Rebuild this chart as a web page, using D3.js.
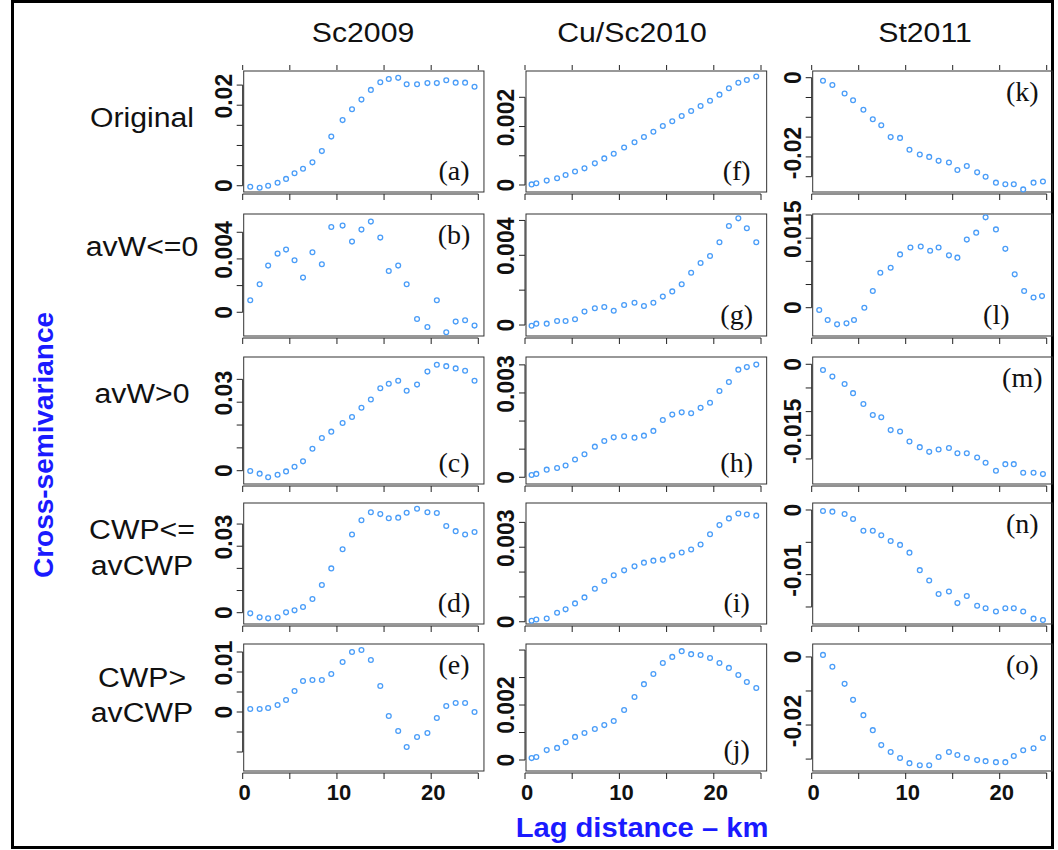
<!DOCTYPE html>
<html><head><meta charset="utf-8">
<script src="https://cdn.jsdelivr.net/npm/d3@7"></script>
<style>body{margin:0;background:#fff}svg{display:block}</style>
</head><body>
<svg id="c" width="1058" height="850"></svg>
<script>
// ---------- data ----------
const columnTitles = ["Sc2009", "Cu/Sc2010", "St2011"];
const rowLabels = [["Original"], ["avW<=0"], ["avW>0"], ["CWP<=", "avCWP"], ["CWP>", "avCWP"]];
const xTicks = [0, 5, 10, 15, 20, 25];
const xTickLabels = [0, 10, 20];

const lagsCol1 = [0.8,1.8,2.7,3.7,4.6,5.5,6.4,7.4,8.4,9.4,10.6,11.6,12.6,13.6,14.6,15.5,16.5,17.4,18.5,19.6,20.6,21.6,22.6,23.6,24.6];
const lagsCol2 = [0.7,1.2,2.3,3.4,4.3,5.3,6.3,7.4,8.4,9.4,10.5,11.6,12.6,13.6,14.6,15.6,16.6,17.6,18.6,19.6,20.6,21.6,22.6,23.5,24.5];
const lagsCol3 = [1.2,2.2,3.5,4.4,5.5,6.5,7.4,8.4,9.4,10.4,11.5,12.5,13.5,14.6,15.5,16.5,17.6,18.5,19.6,20.6,21.5,22.5,23.6,24.6];
const lagsL    = [0.8,1.7,2.7,3.7,4.5,5.6,6.5,7.3,8.4,9.4,10.5,11.6,12.6,13.5,14.6,15.5,16.5,17.5,18.5,19.6,20.6,21.6,22.6,23.6,24.5];

const valsA = [-0.00025,-0.0005,0,0.00075,0.0017,0.0031,0.0042,0.0058,0.0086,0.0122,0.0163,0.019,0.0214,0.0238,0.0257,0.0265,0.0268,0.0252,0.0252,0.0255,0.0255,0.0262,0.0256,0.0256,0.0246];
const valsB = [0.0009,0.0021,0.0035,0.0044,0.0047,0.0039,0.0026,0.0045,0.0036,0.0064,0.0065,0.0053,0.0062,0.0068,0.0056,0.0031,0.0035,0.0021,-0.0005,-0.0011,0.0009,-0.0015,-0.0007,-0.0006,-0.001];
const valsC = [-0.00015,-0.0013,-0.0029,-0.00175,-0.0003,0.00175,0.0041,0.0096,0.0143,0.0171,0.0209,0.0235,0.0276,0.0312,0.0361,0.0381,0.0394,0.035,0.0377,0.0434,0.0464,0.0458,0.0448,0.0438,0.0394];
const valsD = [-0.0003,-0.0021,-0.00256,-0.0021,0.00015,0.00105,0.00256,0.0062,0.0125,0.02,0.0286,0.0353,0.0417,0.0453,0.0445,0.0426,0.0429,0.0451,0.0469,0.0453,0.045,0.0391,0.0368,0.0353,0.0364];
const valsE = [0.00075,0.00075,0.001,0.00175,0.003,0.00525,0.00775,0.008,0.008,0.0095,0.0125,0.015,0.0155,0.013,0.0065,-0.001,-0.00475,-0.00875,-0.00625,-0.00525,-0.0015,0.0015,0.00225,0.00225,0];
const valsF = [0.00002,0.00006,0.00015,0.00023,0.00034,0.00046,0.00057,0.00074,0.00091,0.00107,0.00128,0.00146,0.00164,0.00182,0.00202,0.00218,0.00236,0.00253,0.0027,0.00288,0.00309,0.00331,0.0035,0.00359,0.00371];
const valsG = [-0.00004,0.00008,0.00008,0.00023,0.00023,0.00033,0.00077,0.00096,0.00103,0.00082,0.00115,0.00128,0.00109,0.00128,0.00163,0.00193,0.00234,0.003,0.00356,0.00396,0.00475,0.00568,0.00612,0.00555,0.00475];
const valsH = [0.00008,0.00012,0.00027,0.00033,0.00042,0.00063,0.00082,0.00109,0.00129,0.00142,0.00146,0.00141,0.00148,0.00165,0.00204,0.00223,0.00231,0.00228,0.00247,0.00265,0.00307,0.00339,0.00383,0.00392,0.00401];
const valsI = [0.00004,0.00009,0.00013,0.00036,0.0005,0.00074,0.00098,0.00133,0.00164,0.00187,0.00207,0.00223,0.00238,0.00246,0.0025,0.00266,0.00279,0.00291,0.00311,0.00352,0.00389,0.00416,0.00436,0.00432,0.00427];
const valsJ = [0.00007,0.00011,0.00036,0.00044,0.00065,0.00084,0.00098,0.00113,0.00127,0.00142,0.00182,0.00229,0.00276,0.00313,0.00353,0.00375,0.00396,0.00385,0.00382,0.00371,0.00353,0.00335,0.00309,0.00284,0.00262];
const valsK = [-0.00076,-0.00185,-0.004,-0.0057,-0.0081,-0.0105,-0.012,-0.015,-0.0152,-0.0182,-0.0194,-0.02,-0.021,-0.0214,-0.0233,-0.0223,-0.0239,-0.025,-0.0265,-0.0269,-0.0269,-0.0282,-0.0265,-0.0262];
const valsL = [-0.0005,-0.00266,-0.0036,-0.00338,-0.00266,0,0.0036,0.00755,0.00863,0.0115,0.013,0.0132,0.0123,0.013,0.0113,0.0108,0.0147,0.0162,0.0195,0.0169,0.0127,0.0072,0.0036,0.0022,0.0025];
const valsM = [-0.0012,-0.0026,-0.00415,-0.0061,-0.0084,-0.0107,-0.0112,-0.0139,-0.0142,-0.0163,-0.0175,-0.0185,-0.018,-0.0177,-0.0188,-0.0188,-0.0197,-0.0208,-0.0225,-0.0211,-0.0211,-0.0229,-0.0229,-0.0232];
const valsN = [-0.00015,-0.00026,-0.00062,-0.0014,-0.0032,-0.0032,-0.0039,-0.0048,-0.0054,-0.0066,-0.0093,-0.0109,-0.013,-0.0126,-0.0144,-0.0133,-0.0148,-0.0152,-0.0157,-0.0152,-0.0152,-0.0157,-0.0168,-0.017];
const valsO = [0.0006,-0.0029,-0.0079,-0.0126,-0.0171,-0.0215,-0.0259,-0.0279,-0.0297,-0.0312,-0.0318,-0.0318,-0.0294,-0.0279,-0.0288,-0.0297,-0.0303,-0.0306,-0.0309,-0.0309,-0.0291,-0.0274,-0.0268,-0.0238];

const yTicksA = [0,0.005,0.01,0.015,0.02,0.025], yLabA = [0,0.02];
const yTicksB = [0,0.002,0.004,0.006],           yLabB = [0,0.004];
const yTicksC = [0,0.01,0.02,0.03,0.04],         yLabC = [0,0.03];
const yTicksD = [0,0.01,0.02,0.03,0.04],         yLabD = [0,0.03];
const yTicksE = [-0.01,-0.005,0,0.005,0.01,0.015], yLabE = [0,0.01];
const yTicksF = [0,0.001,0.002,0.003],           yLabF = [0,0.002];
const yTicksG = [0,0.002,0.004,0.006],           yLabG = [0,0.004];
const yTicksH = [0,0.001,0.002,0.003,0.004],     yLabH = [0,0.003];
const yTicksI = [0,0.001,0.002,0.003,0.004],     yLabI = [0,0.003];
const yTicksJ = [0,0.001,0.002,0.003,0.004],     yLabJ = [0,0.002];
const yTicksK = [0,-0.005,-0.01,-0.015,-0.02,-0.025], yLabK = [0,-0.02];
const yTicksL = [0,0.005,0.01,0.015,0.02],       yLabL = [0,0.015];
const yTicksM = [0,-0.005,-0.01,-0.015,-0.02],   yLabM = [0,-0.015];
const yTicksN = [0,-0.005,-0.01,-0.015],         yLabN = [0,-0.01];
const yTicksO = [0,-0.01,-0.02,-0.03],           yLabO = [0,-0.02];

// y-axis limits (value at bottom, value at top) of each panel
const limA = [-0.00156,0.0285], limB = [-0.00178,0.00737], limC = [-0.00583,0.0498], limD = [-0.0051,0.0495], limE = [-0.01475,0.017];
const limF = [-0.00024,0.0039], limG = [-0.00063,0.00637], limH = [-0.00024,0.00428], limI = [-0.00009,0.00478], limJ = [-0.0004,0.00422];
const limK = [-0.02886,0.00169], limL = [-0.00611,0.02022], limM = [-0.02529,0.00154], limN = [-0.01763,0.00108], limO = [-0.0335,0.0038];

// ---------- layout ----------
const colX = [[242.7, 478.3], [525, 761], [811.7, 1046.7]];   // pixel of lag 0 and lag 25
const rowY = [[71,192],[214,336],[357,484],[503,624],[644,771]];
const letterPos = {
  a:"br", b:"tr", c:"br", d:"br", e:"tr",
  f:"br", g:"br", h:"br", i:"br", j:"br",
  k:"tr", l:"bm", m:"tr", n:"tr", o:"tr"
};
// the source's rotated tick labels sit a little above their ticks
const labelLift = {pos:9, neg:4};
const labelLiftOverride = {j:0};

const panels = [
  {id:"a", col:0, row:0, lags:lagsCol1, vals:valsA, ticks:yTicksA, labs:yLabA, lim:limA},
  {id:"b", col:0, row:1, lags:lagsCol1, vals:valsB, ticks:yTicksB, labs:yLabB, lim:limB},
  {id:"c", col:0, row:2, lags:lagsCol1, vals:valsC, ticks:yTicksC, labs:yLabC, lim:limC},
  {id:"d", col:0, row:3, lags:lagsCol1, vals:valsD, ticks:yTicksD, labs:yLabD, lim:limD},
  {id:"e", col:0, row:4, lags:lagsCol1, vals:valsE, ticks:yTicksE, labs:yLabE, lim:limE},
  {id:"f", col:1, row:0, lags:lagsCol2, vals:valsF, ticks:yTicksF, labs:yLabF, lim:limF},
  {id:"g", col:1, row:1, lags:lagsCol2, vals:valsG, ticks:yTicksG, labs:yLabG, lim:limG},
  {id:"h", col:1, row:2, lags:lagsCol2, vals:valsH, ticks:yTicksH, labs:yLabH, lim:limH},
  {id:"i", col:1, row:3, lags:lagsCol2, vals:valsI, ticks:yTicksI, labs:yLabI, lim:limI},
  {id:"j", col:1, row:4, lags:lagsCol2, vals:valsJ, ticks:yTicksJ, labs:yLabJ, lim:limJ},
  {id:"k", col:2, row:0, lags:lagsCol3, vals:valsK, ticks:yTicksK, labs:yLabK, lim:limK},
  {id:"l", col:2, row:1, lags:lagsL,    vals:valsL, ticks:yTicksL, labs:yLabL, lim:limL},
  {id:"m", col:2, row:2, lags:lagsCol3, vals:valsM, ticks:yTicksM, labs:yLabM, lim:limM},
  {id:"n", col:2, row:3, lags:lagsCol3, vals:valsN, ticks:yTicksN, labs:yLabN, lim:limN},
  {id:"o", col:2, row:4, lags:lagsCol3, vals:valsO, ticks:yTicksO, labs:yLabO, lim:limO}
];

const svg = d3.select("#c");
svg.append("rect").attr("width",1058).attr("height",850).attr("fill","#fff");
svg.append("rect").attr("x",12.5).attr("y",1.5).attr("width",1040).attr("height",846)
  .attr("fill","none").attr("stroke","#000").attr("stroke-width",3);

const SANS = "'Liberation Sans', Arial, sans-serif";
const SERIF = "'Liberation Serif', 'Times New Roman', serif";
const pointColor = "#4a9df8";
const blue = "#1a1aff";

const titleX = [363, 632, 925];
columnTitles.forEach((t,i)=>{
  svg.append("text").attr("transform",`translate(${titleX[i]},42) scale(1.12,1)`).attr("text-anchor","middle")
    .attr("font-family",SANS).attr("font-size",27).attr("fill","#111").text(t);
});
const rowLabelY = [[127],[256],[403],[539,575],[687,722]];
rowLabels.forEach((lines,r)=>{
  lines.forEach((ln,k)=>{
    svg.append("text").attr("transform",`translate(142,${rowLabelY[r][k]}) scale(1.12,1)`).attr("text-anchor","middle")
      .attr("font-family",SANS).attr("font-size",27).attr("fill","#111").text(ln);
  });
});
svg.append("text").attr("transform","translate(53,445) rotate(-90)").attr("text-anchor","middle")
  .attr("font-family",SANS).attr("font-weight","bold").attr("font-size",28).attr("fill",blue)
  .text("Cross-semivariance");
svg.append("text").attr("transform","translate(642,837) scale(1.08,1)").attr("text-anchor","middle")
  .attr("font-family",SANS).attr("font-weight","bold").attr("font-size",27).attr("fill",blue)
  .text("Lag distance \u2013 km");

panels.forEach(p=>{
  const [x0,x25] = colX[p.col];
  const [top,bot] = rowY[p.row];
  const x = d3.scaleLinear().domain([0,25]).range([x0,x25]);
  const y = d3.scaleLinear().domain(p.lim).range([bot,top]);
  const g = svg.append("g");
  const left = x(0)+1, right = x(25.6);
  g.append("rect").attr("x",left).attr("y",top).attr("width",right-left).attr("height",bot-top)
    .attr("fill","none").attr("stroke","#333").attr("stroke-width",1);
  const yIn = p.ticks.filter(v=>v>=p.lim[0] && v<=p.lim[1]);
  const ax = x(0);
  g.append("line").attr("x1",ax).attr("x2",ax).attr("y1",y(d3.min(yIn))).attr("y2",y(d3.max(yIn)))
    .attr("stroke","#222").attr("stroke-width",1);
  g.selectAll(".yt").data(yIn).join("line").attr("x1",ax-6).attr("x2",ax)
    .attr("y1",d=>y(d)).attr("y2",d=>y(d)).attr("stroke","#222").attr("stroke-width",1);
  const lift = d => d===0 ? 0 : (p.id in labelLiftOverride ? labelLiftOverride[p.id] : (d>0?labelLift.pos:labelLift.neg));
  g.selectAll(".yl").data(p.labs).join("text")
    .attr("transform",d=>`translate(${ax-11},${y(d) - lift(d)}) rotate(-90)`)
    .attr("text-anchor","middle").attr("font-family",SANS).attr("font-weight","bold")
    .attr("font-size",23).attr("fill","#111").text(d=>String(d));
  const by = bot+2;
  g.append("line").attr("x1",x(0)).attr("x2",x(25)).attr("y1",by).attr("y2",by)
    .attr("stroke","#222").attr("stroke-width",1);
  g.selectAll(".xt").data(xTicks).join("line").attr("x1",d=>x(d)).attr("x2",d=>x(d))
    .attr("y1",by).attr("y2",by+6).attr("stroke","#222").attr("stroke-width",1);
  if(p.row===0){
    g.selectAll(".xt2").data(xTicks).join("line").attr("x1",d=>x(d)).attr("x2",d=>x(d))
      .attr("y1",top-6).attr("y2",top-1).attr("stroke","#222").attr("stroke-width",1);
  }
  if(p.row===4){
    g.selectAll(".xl").data(xTickLabels).join("text").attr("x",d=>x(d)+2).attr("y",by+27)
      .attr("text-anchor","middle").attr("font-family",SANS).attr("font-weight","bold")
      .attr("font-size",22).attr("fill","#111").text(d=>String(d));
  }
  g.selectAll("circle").data(p.vals.map((v,i)=>[p.lags[i],v])).join("circle")
    .attr("cx",d=>x(d[0])).attr("cy",d=>y(d[1])).attr("r",2.4)
    .attr("fill","#fff").attr("stroke",pointColor).attr("stroke-width",1.3);
  const pos = letterPos[p.id];
  let lx = right-30, ly = bot-12;
  if(pos==="tr"){ lx = right-30; ly = top+30; }
  if(pos==="bm"){ lx = right-56; ly = bot-12; }
  g.append("text").attr("x",lx).attr("y",ly).attr("text-anchor","middle")
    .attr("font-family",SERIF).attr("font-size",28).attr("fill","#111").text(`(${p.id})`);
});
</script>
</body></html>
